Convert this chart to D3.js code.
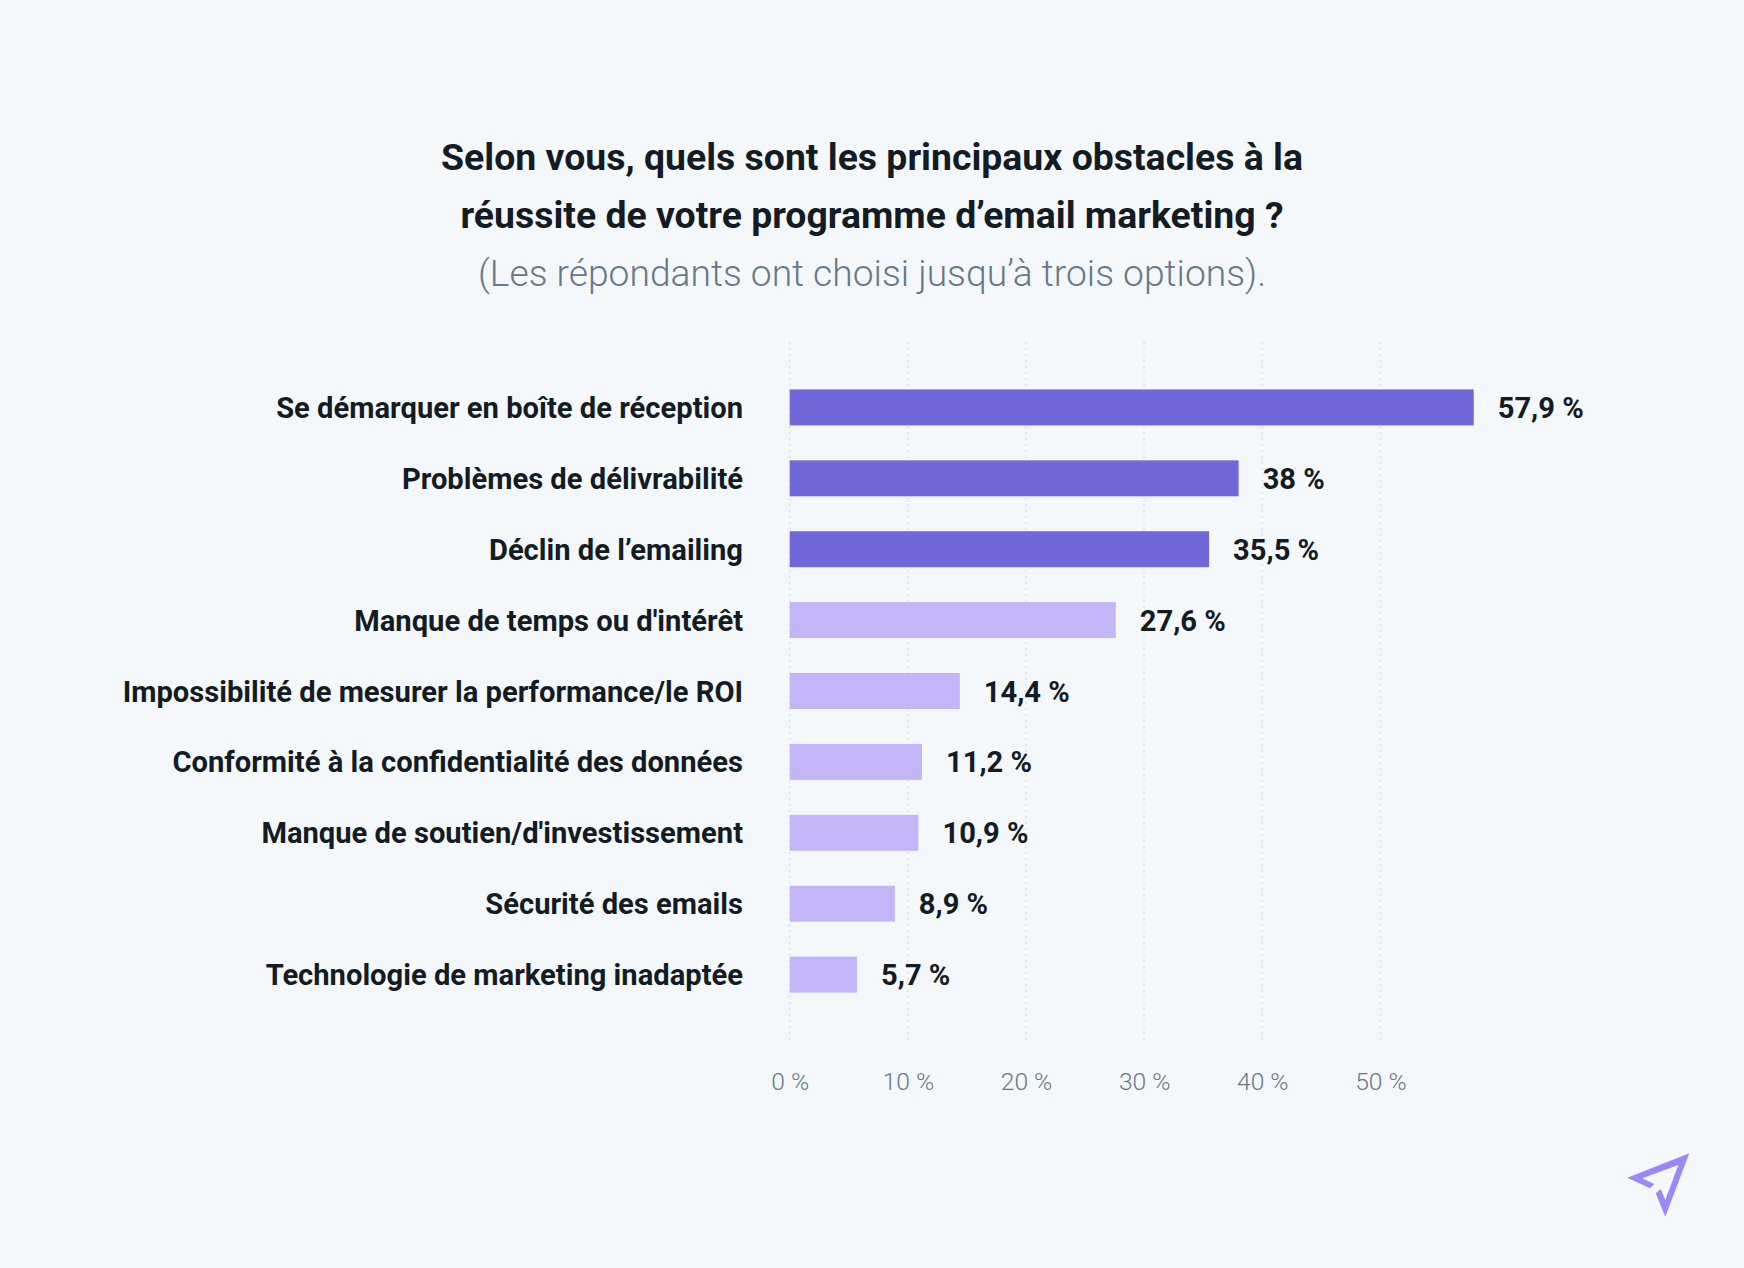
<!DOCTYPE html>
<html>
<head>
<meta charset="utf-8">
<script src="https://cdn.jsdelivr.net/npm/d3@7"></script>
<style>
html, body { margin: 0; padding: 0; background: #f5f8fb; }
svg { display: block; font-family: Roboto, sans-serif; }
</style>
</head>
<body>
<svg id="chart" width="1744" height="1268"></svg>
<script>
var categories = [
  "Se démarquer en boîte de réception",
  "Problèmes de délivrabilité",
  "Déclin de l’emailing",
  "Manque de temps ou d'intérêt",
  "Impossibilité de mesurer la performance/le ROI",
  "Conformité à la confidentialité des données",
  "Manque de soutien/d'investissement",
  "Sécurité des emails",
  "Technologie de marketing inadaptée"
];
var values = [57.9, 38, 35.5, 27.6, 14.4, 11.2, 10.9, 8.9, 5.7];
var valueLabels = ["57,9 %", "38 %", "35,5 %", "27,6 %", "14,4 %", "11,2 %", "10,9 %", "8,9 %", "5,7 %"];
var highlighted = 3; // first three bars are the dark ones
var ticks = [0, 10, 20, 30, 40, 50];

var titleLines = [
  "Selon vous, quels sont les principaux obstacles à la",
  "réussite de votre programme d’email marketing ?"
];
var subtitle = "(Les répondants ont choisi jusqu’à trois options).";

var svg = d3.select("#chart");

svg.append("rect").attr("width", 1744).attr("height", 1268).attr("fill", "#f5f8fb");

var x = d3.scaleLinear().domain([0, 50]).range([789.7, 1380.4]);
var y = d3.scaleBand().domain(categories).range([372, 1010]).paddingInner(0.4925).paddingOuter(0.246);

// title
svg.selectAll(".title").data(titleLines).enter().append("text")
  .attr("class", "title")
  .attr("x", 872)
  .attr("y", function(d, i) { return 170 + i * 58; })
  .attr("text-anchor", "middle")
  .attr("font-size", 37.4)
  .attr("font-weight", 700)
  .attr("fill", "#131c24")
  .text(function(d) { return d; });

svg.append("text")
  .attr("x", 872)
  .attr("y", 286)
  .attr("text-anchor", "middle")
  .attr("font-size", 37.2)
  .attr("font-weight", 300)
  .attr("fill", "#66798a")
  .text(subtitle);

// grid + axis
var axis = d3.axisBottom(x)
  .tickValues(ticks)
  .tickSize(0)
  .tickPadding(0)
  .tickFormat(function(d) { return d + " %"; });

var axisG = svg.append("g").attr("transform", "translate(0,1070)").call(axis);
axisG.select(".domain").remove();
axisG.selectAll("text")
  .attr("y", 0)
  .attr("dy", "20px")
  .attr("font-family", "Roboto, sans-serif")
  .attr("font-size", 24.6)
  .attr("font-weight", 300)
  .attr("fill", "#66798a");

svg.selectAll(".grid").data(ticks).enter().append("line")
  .attr("class", "grid")
  .attr("x1", function(d) { return x(d); })
  .attr("x2", function(d) { return x(d); })
  .attr("y1", 342)
  .attr("y2", 1040)
  .attr("stroke", "#e3e6eb")
  .attr("stroke-width", 2)
  .attr("stroke-dasharray", "2 4");

// bars
svg.selectAll(".bar").data(values).enter().append("rect")
  .attr("class", "bar")
  .attr("x", x(0))
  .attr("y", function(d, i) { return y(categories[i]); })
  .attr("width", function(d) { return x(d) - x(0); })
  .attr("height", y.bandwidth())
  .attr("fill", function(d, i) { return i < highlighted ? "#7067d9" : "#c4b5f9"; });

// category labels
svg.selectAll(".cat").data(categories).enter().append("text")
  .attr("class", "cat")
  .attr("x", 743)
  .attr("y", function(d) { return y(d) + y.bandwidth() / 2 + 10.6; })
  .attr("text-anchor", "end")
  .attr("font-size", 29.15)
  .attr("font-weight", 700)
  .attr("fill", "#131c24")
  .text(function(d) { return d; });

// value labels
svg.selectAll(".val").data(values).enter().append("text")
  .attr("class", "val")
  .attr("x", function(d) { return x(d) + 24; })
  .attr("y", function(d, i) { return y(categories[i]) + y.bandwidth() / 2 + 10.6; })
  .attr("font-size", 29.1)
  .attr("font-weight", 700)
  .attr("fill", "#131c24")
  .text(function(d, i) { return valueLabels[i]; });

// logo
var logo = d3.path();
logo.moveTo(1689.3, 1153.3);
logo.lineTo(1627.3, 1177.7);
logo.lineTo(1650, 1188.3);
logo.lineTo(1654.3, 1184);
logo.lineTo(1642.3, 1178.3);
logo.lineTo(1678.3, 1165);
logo.lineTo(1665.3, 1200);
logo.lineTo(1660.7, 1189);
logo.lineTo(1655.7, 1193.3);
logo.lineTo(1665.3, 1216.7);
logo.closePath();
svg.append("path").attr("d", logo.toString()).attr("fill", "#9b87f5");
</script>
</body>
</html>
